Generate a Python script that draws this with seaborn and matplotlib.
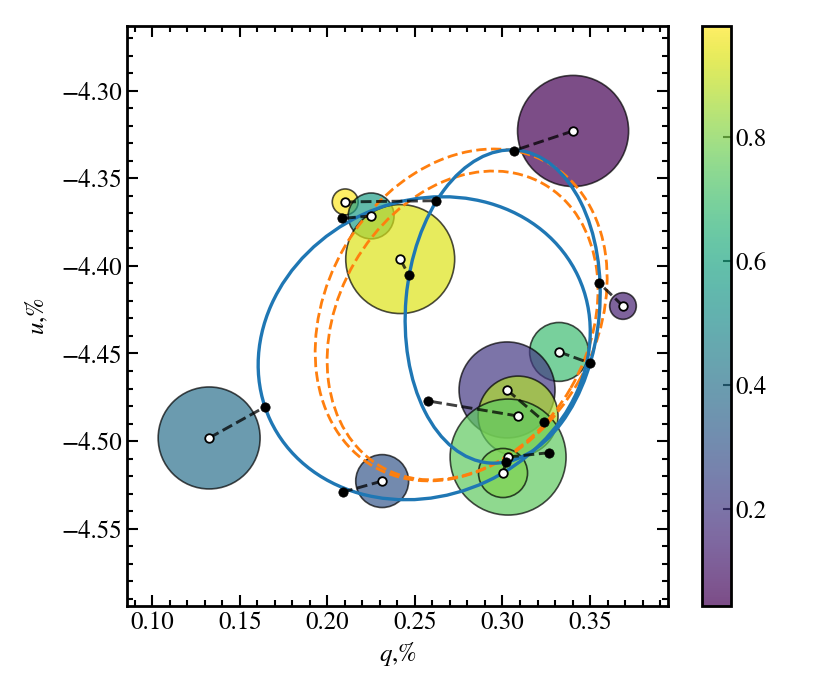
import numpy as np
import pandas as pd
import matplotlib
matplotlib.use("Agg")
import matplotlib.pyplot as plt
from matplotlib.patches import Circle, Ellipse
from matplotlib.collections import PatchCollection
from matplotlib.ticker import MultipleLocator
import seaborn as sns

sns.set_style("ticks")
plt.rcParams["font.family"] = ["STIXGeneral", "Liberation Serif", "DejaVu Serif"]
plt.rcParams["mathtext.fontset"] = "stix"
plt.rcParams["axes.unicode_minus"] = True
plt.rcParams["text.color"] = "k"
plt.rcParams["axes.labelcolor"] = "k"
plt.rcParams["xtick.color"] = "k"
plt.rcParams["ytick.color"] = "k"
plt.rcParams["axes.edgecolor"] = "k"

# observed points (centre of each error circle)
q_obs = [0.3403, 0.2102, 0.2250, 0.2416, 0.1325, 0.2313, 0.3688, 0.3323, 0.3026, 0.3089, 0.3032, 0.3003]
u_obs = [-4.3230, -4.3635, -4.3715, -4.3961, -4.4982, -4.5228, -4.4229, -4.4491, -4.4708, -4.4857, -4.5091, -4.5182]
err = [0.0317, 0.0074, 0.0131, 0.0311, 0.0291, 0.0151, 0.0076, 0.0168, 0.0274, 0.0228, 0.0331, 0.0140]
phase = [0.043, 0.98, 0.57, 0.93, 0.39, 0.30, 0.13, 0.69, 0.20, 0.87, 0.75, 0.80]

# model points at the same phases
q_mod = [0.3066, 0.2621, 0.2082, 0.2465, 0.1645, 0.2088, 0.3549, 0.3502, 0.3239, 0.2577, 0.3266, 0.3019]
u_mod = [-4.3342, -4.3628, -4.3729, -4.4054, -4.4804, -4.5291, -4.4095, -4.4556, -4.4889, -4.4771, -4.5066, -4.5122]

# model loops: centre q, centre u, width, height, angle
blue_loops = [(0.2553, -4.4470, 0.194, 0.168, 25),
              (0.3001, -4.4232, 0.1792, 0.1107, 85)]
orange_loops = [(0.2764, -4.4280, 0.1998, 0.1541, 60),
                (0.2772, -4.4340, 0.1861, 0.1427, 60)]

obs = pd.DataFrame({"q": q_obs, "u": u_obs})
mod = pd.DataFrame({"q": q_mod, "u": u_mod})

fig = plt.figure(figsize=(8.3, 6.92), dpi=100)
ax = fig.add_axes([127/830, 86/692, 541/830, 580/692])
cax = fig.add_axes([702/830, 86/692, 29/830, 580/692])

circles = [Circle((x, y), r) for x, y, r in zip(q_obs, u_obs, err)]
pc = PatchCollection(circles, cmap="viridis", alpha=0.7, edgecolor="k", linewidth=1.2, zorder=1)
pc.set_array(np.array(phase))
pc.set_clim(0.043, 0.98)
ax.add_collection(pc)

for cx, cy, w, h, a in blue_loops:
    ax.add_patch(Ellipse((cx, cy), w, h, angle=a, fill=False, ec="#1f77b4", lw=2.4, zorder=3))
for cx, cy, w, h, a in orange_loops:
    ax.add_patch(Ellipse((cx, cy), w, h, angle=a, fill=False, ec="#ff7f0e", lw=2.0, ls="--", zorder=2))

for x0, y0, x1, y1 in zip(q_obs, u_obs, q_mod, u_mod):
    ax.plot([x0, x1], [y0, y1], ls="--", color="k", alpha=0.75, lw=2.1, zorder=4)

sns.scatterplot(data=obs, x="q", y="u", ax=ax, color="white", edgecolor="k", linewidth=1.3, s=38, zorder=5)
sns.scatterplot(data=mod, x="q", y="u", ax=ax, color="k", edgecolor="k", linewidth=0.5, s=45, zorder=6)

ax.set_xlim(0.0856, 0.3945)
ax.set_ylim(-4.5941, -4.2631)
ax.xaxis.set_major_locator(MultipleLocator(0.05))
ax.xaxis.set_minor_locator(MultipleLocator(0.01))
ax.yaxis.set_major_locator(MultipleLocator(0.05))
ax.yaxis.set_minor_locator(MultipleLocator(0.01))
ax.tick_params(which="both", direction="in", top=True, right=True, labelsize=18, width=1.5)
ax.tick_params(which="major", length=8)
ax.tick_params(which="minor", length=4.5)
for sp in ax.spines.values():
    sp.set_linewidth(2)
ax.set_xlabel("$q$,%", fontsize=18, labelpad=4)
ax.set_ylabel("$u$,%", fontsize=18, labelpad=8)

cb = fig.colorbar(pc, cax=cax)
cb.set_ticks([0.2, 0.4, 0.6, 0.8])
cb.ax.tick_params(direction="in", length=6, width=1.5, labelsize=18)
cb.outline.set_linewidth(2)

fig.savefig("out.png", dpi=100)
